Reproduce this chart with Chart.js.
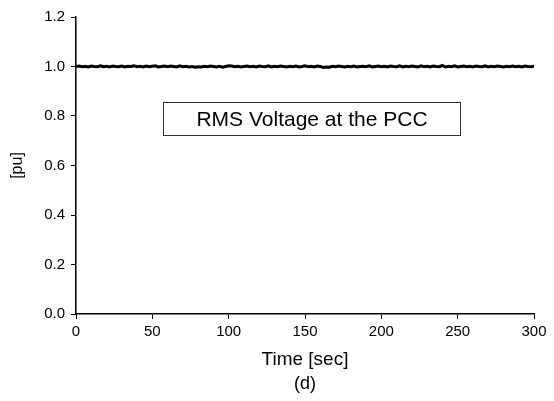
<!DOCTYPE html>
<html>
<head>
<meta charset="utf-8">
<script src="https://cdn.jsdelivr.net/npm/chart.js@4/dist/chart.umd.min.js"></script>
<style>
  html, body { margin: 0; padding: 0; background: #fff; }
  #wrap { width: 554px; height: 401px; position: relative; }
</style>
</head>
<body>
<div id="wrap"><canvas id="rms_chart"></canvas></div>
<script>
// time axis (sec), one sample every 2 s
const timeSec = [];
for (let t = 0; t <= 300; t += 2) timeSec.push(t);

// RMS voltage at the PCC [pu]
const rmsVoltage = [
    1.000, 1.002, 0.999, 1.001, 0.998, 1.002, 1.000, 0.999, 1.003, 0.999,
    1.001, 0.998, 1.002, 1.000, 0.999, 1.002, 0.998, 1.001, 1.000, 1.003,
    0.999, 1.001, 0.998, 1.002, 0.999, 1.001, 1.003, 0.998, 1.000, 1.002,
    0.999, 1.002, 1.000, 0.998, 1.003, 0.999, 1.001, 0.998, 1.000, 0.997,
    0.999, 0.998, 1.001, 0.999, 1.002, 1.000, 0.998, 1.001, 0.997, 1.000,
    1.003, 1.002, 0.999, 1.001, 0.998, 1.000, 1.002, 0.999, 1.001, 0.998,
    1.002, 1.000, 0.999, 1.003, 0.998, 1.001, 0.999, 1.002, 1.000, 0.998,
    1.001, 0.999, 1.002, 0.998, 1.000, 1.003, 0.999, 1.001, 0.998, 1.002,
    1.000, 0.996, 0.998, 0.997, 1.001, 0.999, 1.002, 1.000, 0.998, 1.001,
    0.999, 1.002, 0.998, 1.000, 1.001, 0.999, 1.003, 0.998, 1.000, 1.002,
    0.999, 1.001, 0.998, 1.002, 1.000, 0.999, 1.003, 0.998, 1.001, 0.999,
    1.002, 1.000, 0.998, 1.003, 0.999, 1.001, 0.998, 1.002, 1.000, 0.999,
    1.004, 0.998, 1.001, 0.999, 1.003, 0.998, 1.000, 1.002, 0.999, 1.001,
    0.998, 1.002, 1.000, 0.999, 1.003, 0.998, 1.001, 0.999, 1.002, 1.000,
    0.998, 1.001, 0.999, 1.002, 0.999, 1.001, 0.998, 1.002, 1.000, 0.999,
    1.001
];

const xTicks = [0, 50, 100, 150, 200, 250, 300];
const yTicks = [0.0, 0.2, 0.4, 0.6, 0.8, 1.0, 1.2];

const seriesLabel = "RMS Voltage at the PCC";
const xTitle = "Time [sec]";
const yTitle = "[pu]";
const panelTag = "(d)";

const FONT = "Arial, 'Liberation Sans', sans-serif";

// legend box + panel tag
const annotations = {
    id: "annotations",
    afterDraw(chart) {
        const ctx = chart.ctx;
        const area = chart.chartArea;
        ctx.save();
        // boxed label
        const bx = 163.5, by = 102.5, bw = 297, bh = 33;
        ctx.strokeStyle = "#333";
        ctx.lineWidth = 1;
        ctx.strokeRect(bx, by, bw, bh);
        ctx.fillStyle = "#000";
        ctx.font = "21px " + FONT;
        ctx.textAlign = "center";
        ctx.textBaseline = "middle";
        ctx.fillText(seriesLabel, bx + bw / 2, by + bh / 2 + 1);
        // (d)
        ctx.font = "18px " + FONT;
        ctx.fillText(panelTag, (area.left + area.right) / 2, 384);
        ctx.restore();
    },
};

new Chart(document.getElementById("rms_chart"), {
    type: "line",
    data: {
        labels: timeSec,
        datasets: [
            {
                label: seriesLabel,
                data: timeSec.map((t, i) => ({ x: t, y: rmsVoltage[i] })),
                borderColor: "#000",
                borderWidth: 3,
                pointRadius: 0,
                tension: 0,
                fill: false,
            },
        ],
    },
    options: {
        responsive: true,
        maintainAspectRatio: false,
        animation: false,
        layout: { padding: { top: 17, right: 20, left: 8, bottom: 30 } },
        plugins: {
            legend: { display: false },
            tooltip: { enabled: false },
        },
        scales: {
            x: {
                type: "linear",
                min: 0,
                max: 300,
                afterBuildTicks: (s) => { s.ticks = xTicks.map((v) => ({ value: v })); },
                afterFit: (s) => { s.height = 57; },
                grid: {
                    drawOnChartArea: false,
                    drawTicks: true,
                    tickLength: 5,
                    tickColor: "#000",
                    tickWidth: 1,
                },
                border: { color: "#000", width: 1.5 },
                ticks: {
                    color: "#000",
                    font: { family: FONT, size: 15 },
                    padding: 4,
                    maxRotation: 0,
                },
                title: {
                    display: true,
                    text: xTitle,
                    color: "#000",
                    font: { family: FONT, size: 19 },
                    padding: { top: 4, bottom: 0 },
                },
            },
            y: {
                min: 0,
                max: 1.2,
                afterBuildTicks: (s) => { s.ticks = yTicks.map((v) => ({ value: v })); },
                afterFit: (s) => { s.width = 68; },
                grid: {
                    drawOnChartArea: false,
                    drawTicks: true,
                    tickLength: 5,
                    tickColor: "#000",
                    tickWidth: 1,
                },
                border: { color: "#000", width: 1.5 },
                ticks: {
                    color: "#000",
                    font: { family: FONT, size: 15 },
                    padding: 6,
                    callback: (v) => Number(v).toFixed(1),
                },
                title: {
                    display: true,
                    text: yTitle,
                    color: "#000",
                    font: { family: FONT, size: 16 },
                    padding: { top: 0, bottom: 0 },
                },
            },
        },
    },
    plugins: [annotations],
});
</script>
</body>
</html>
